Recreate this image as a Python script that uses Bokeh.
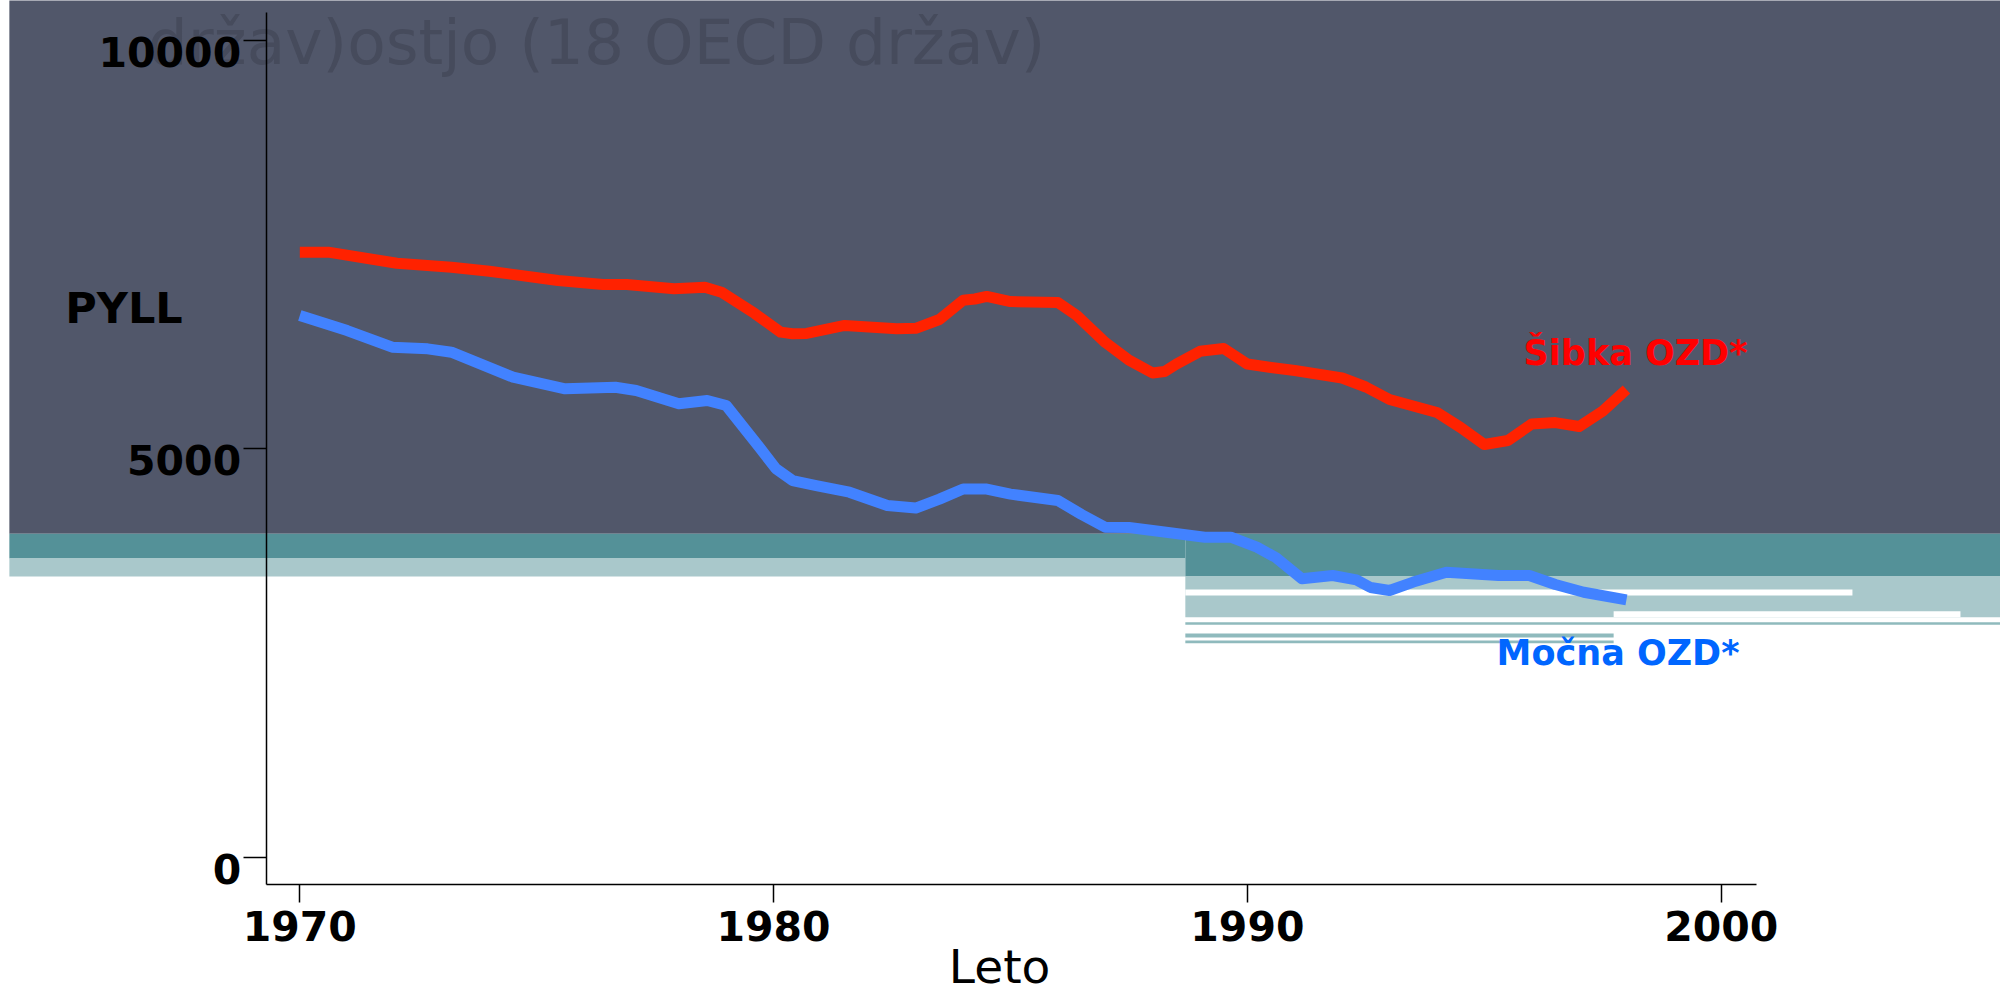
from bokeh.plotting import figure
from bokeh.models import BoxAnnotation, Label, FixedTicker, Range1d, LinearAxis
from bokeh.embed import file_html
from bokeh.resources import INLINE

# ---- data ----
weak_years = [1970.0, 1970.6, 1972.05, 1973.2, 1974.0, 1975.45, 1976.4, 1976.9, 1977.9, 1978.55,
              1978.9, 1979.6, 1980.15, 1980.4, 1980.7, 1981.5, 1982.6, 1983.0, 1983.5, 1984.0,
              1984.25, 1984.5, 1985.0, 1986.0, 1986.4, 1987.0, 1987.5, 1988.0, 1988.25, 1988.5,
              1989.0, 1989.5, 1990.0, 1990.5, 1991.0, 1992.0, 1992.5, 1993.0, 1994.0, 1994.5,
              1995.0, 1995.5, 1996.0, 1996.5, 1997.0, 1997.5, 1998.0]
weak_pyll = [7409, 7409, 7274, 7225, 7176, 7062, 7013, 7013, 6961, 6981,
             6919, 6659, 6430, 6410, 6414, 6512, 6471, 6477, 6585, 6821,
             6836, 6867, 6805, 6793, 6634, 6304, 6087, 5930, 5948, 6040,
             6196, 6230, 6040, 5998, 5961, 5869, 5759, 5606, 5447, 5263,
             5055, 5104, 5306, 5323, 5275, 5463, 5728]

strong_years = [1970.0, 1971.0, 1971.95, 1972.7, 1973.2, 1974.5, 1975.6, 1976.66, 1977.1, 1978.0,
                1978.6, 1979.0, 1979.7, 1980.05, 1980.4, 1980.9, 1981.6, 1982.4, 1983.0, 1983.5,
                1984.0, 1984.5, 1985.0, 1986.0, 1986.5, 1987.0, 1987.5, 1988.0, 1989.1, 1989.65,
                1990.2, 1990.6, 1991.15, 1991.8, 1992.3, 1992.6, 1993.0, 1993.5, 1994.2, 1995.3,
                1995.95, 1996.5, 1997.1, 1998.0]
strong_pyll = [6634, 6450, 6246, 6226, 6185, 5879, 5737, 5756, 5716, 5553,
               5594, 5532, 5022, 4758, 4614, 4553, 4471, 4308, 4277, 4386,
               4510, 4510, 4448, 4370, 4198, 4042, 4039, 4002, 3920, 3920,
               3798, 3672, 3411, 3452, 3399, 3305, 3268, 3371, 3492, 3452,
               3452, 3341, 3247, 3154]

x_ticks = [1970, 1980, 1990, 2000]
y_ticks = [0, 5000, 10000]

title_text = "držav)ostjo (18 OECD držav)"
weak_label = "Šibka OZD*"
strong_label = "Močna OZD*"
y_title = "PYLL"
x_title = "Leto"

# ---- styles ----
DARK = "#51576A"
TEAL = "#549198"
LTEAL = "#A9C8CB"
THIN = "#8FBABD"
FONT = "DejaVu Sans"

# axis extents (data units)
X0, X1 = 1969.29, 2000.745
Y0, Y1 = -334, 10346
YR = (-1713.6, 10489.6)
LABEL_SHIFT = 135  # y tick labels sit a little below their ticks in the reference

W, H = 2000, 997
p = figure(width=W, height=H, output_backend="svg", toolbar_location=None, title=None,
           x_range=Range1d(1963.683, 2005.895), y_range=Range1d(*YR),
           min_border=0, min_border_left=0, min_border_right=0,
           min_border_top=0, min_border_bottom=0,
           background_fill_color="white", border_fill_color="white")
p.outline_line_color = None
p.xgrid.visible = False
p.ygrid.visible = False


def box(l, r, b, t, color):
    p.add_layout(BoxAnnotation(left=l, right=r, bottom=b, top=t, fill_color=color,
                               fill_alpha=1, line_alpha=0, level="underlay"))


# background decoration (slide template)
box(1963.87, 2010, 3962, 12000, DARK)
box(1963.87, 1988.69, 3660, 3962, TEAL)
box(1963.87, 1988.69, 3439, 3660, LTEAL)
box(1988.69, 2010, 3439, 3962, TEAL)
box(1988.69, 2010, 2941, 3439, LTEAL)
box(1988.69, 2002.77, 3207, 3280, "white")
box(1997.73, 2005.05, 2941, 3015, "white")
box(1988.69, 2010, 2848, 2880, THIN)
box(1988.69, 1997.73, 2693, 2742, THIN)
box(1988.69, 1997.73, 2623, 2656, THIN)

p.add_layout(Label(x=1966.79, y=9976, text=title_text, text_font=FONT, text_font_size="63px",
                   text_color="#464B5C", text_align="left", text_baseline="middle",
                   level="underlay"))

# curves
p.line(weak_years, weak_pyll, line_color="#FF2200", line_width=11, line_join="round")
p.line(strong_years, strong_pyll, line_color="#4282FF", line_width=11, line_join="round")


def style_axis(ax, ticks, tout, stand):
    ax.ticker = FixedTicker(ticks=ticks)
    ax.major_tick_out = tout
    ax.major_tick_in = 0
    ax.minor_tick_line_color = None
    ax.major_tick_line_color = "black"
    ax.major_tick_line_width = 1.5
    ax.axis_line_color = "black"
    ax.axis_line_width = 1.5
    ax.major_label_standoff = stand
    ax.major_label_text_font = FONT
    ax.major_label_text_font_style = "bold"
    ax.major_label_text_font_size = "41px"
    ax.major_label_text_color = "black"


# axes
p.xaxis.fixed_location = Y0
p.xaxis.bounds = (X0, X1)
style_axis(p.xaxis[0], x_ticks, 18, 8)

p.yaxis.fixed_location = X0
p.yaxis.bounds = (Y0, Y1)
style_axis(p.yaxis[0], y_ticks, 23, 2)
p.yaxis.major_label_text_color = None

# tick labels of the y axis, drawn slightly lower than the ticks
p.extra_y_ranges = {"ylab": Range1d(YR[0] + LABEL_SHIFT, YR[1] + LABEL_SHIFT)}
ylab = LinearAxis(y_range_name="ylab", fixed_location=X0)
style_axis(ylab, y_ticks, 23, 2)
ylab.axis_line_alpha = 0
ylab.major_tick_line_alpha = 0
p.add_layout(ylab, "left")

# texts
p.add_layout(Label(x=1965.05, y=6720, text=y_title, text_font=FONT, text_font_style="bold",
                   text_font_size="43px", text_color="black", text_align="left",
                   text_baseline="middle"))
p.add_layout(Label(x=1984.77, y=-1340, text=x_title, text_font=FONT, text_font_size="47px",
                   text_color="black", text_align="center", text_baseline="middle"))
p.add_layout(Label(x=1995.83, y=6169, text=weak_label, text_font=FONT, text_font_style="bold",
                   text_font_size="35px", text_color="#FF0000", text_align="left",
                   text_baseline="middle"))
p.add_layout(Label(x=1995.26, y=2497, text=strong_label, text_font=FONT, text_font_style="bold",
                   text_font_size="35px", text_color="#0066FF", text_align="left",
                   text_baseline="middle"))

open("out.html", "w").write(file_html(p, INLINE))
